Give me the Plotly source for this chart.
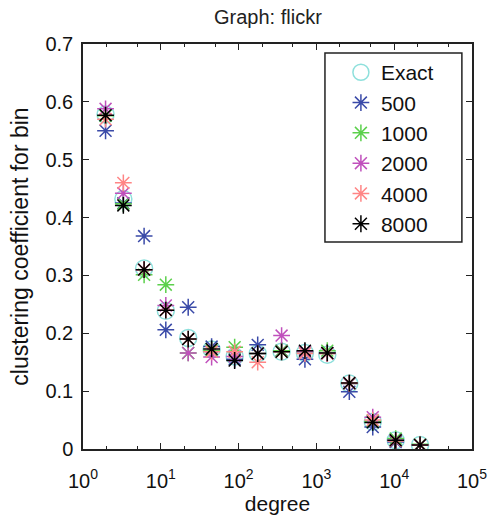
import plotly.graph_objects as go

degree = [1.95, 3.3, 6.1, 11.6, 22.5, 45, 89, 176, 357, 712, 1380, 2650, 5300, 10450, 21500]

exact = [0.578, 0.432, 0.312, 0.239, 0.192, 0.172, 0.160, 0.165, 0.168, 0.166, 0.163, 0.113, 0.047, 0.015, 0.007]
s500 = [0.550, 0.425, 0.368, 0.206, 0.245, 0.177, 0.155, 0.180, 0.170, 0.155, 0.166, 0.099, 0.038, 0.012, 0.007]
s1000 = [0.576, 0.424, 0.301, 0.284, 0.166, 0.170, 0.176, 0.165, 0.170, 0.168, 0.170, 0.113, 0.048, 0.018, 0.008]
s2000 = [0.588, 0.442, 0.310, 0.248, 0.166, 0.159, 0.160, 0.165, 0.196, 0.168, 0.165, 0.113, 0.055, 0.015, 0.007]
s4000 = [0.570, 0.460, 0.310, 0.240, 0.190, 0.168, 0.168, 0.150, 0.168, 0.165, 0.165, 0.114, 0.050, 0.014, 0.007]
s8000 = [0.577, 0.421, 0.310, 0.240, 0.190, 0.173, 0.153, 0.165, 0.168, 0.170, 0.166, 0.114, 0.046, 0.015, 0.007]

series = [
    ("500", s500, "#3a4aa8"),
    ("1000", s1000, "#5cd04c"),
    ("2000", s2000, "#c050bc"),
    ("4000", s4000, "#ff8585"),
    ("8000", s8000, "#000000"),
]

xtickvals = [1, 10, 100, 1000, 10000, 100000]
xticktext = ["10<sup>0</sup>", "10<sup>1</sup>", "10<sup>2</sup>", "10<sup>3</sup>", "10<sup>4</sup>", "10<sup>5</sup>"]
yticks = [0, 0.1, 0.2, 0.3, 0.4, 0.5, 0.6, 0.7]
yticktext = ["0", "0.1", "0.2", "0.3", "0.4", "0.5", "0.6", "0.7"]

fig = go.Figure()
fig.add_trace(go.Scatter(
    x=degree, y=exact, mode="markers", name="Exact",
    marker=dict(symbol="circle-open", size=17, color="#8ee0dc", line=dict(width=1.5, color="#8ee0dc")),
))
for name, vals, col in series:
    fig.add_trace(go.Scatter(
        x=degree, y=vals, mode="markers", name=name,
        marker=dict(symbol="asterisk-open", size=14, color=col, line=dict(width=1.5, color=col)),
    ))

font_family = "Liberation Sans, Arial, sans-serif"
fig.update_layout(
    width=488, height=515,
    margin=dict(l=83, r=16, t=44, b=66),
    paper_bgcolor="white", plot_bgcolor="white",
    font=dict(family=font_family, color="#111111", size=20),
    title=dict(text="Graph: flickr", x=0.549, xanchor="center", y=0.967, yanchor="middle",
               font=dict(size=20, family=font_family, color="#222222")),
    xaxis=dict(
        type="log", range=[0, 5], tickvals=xtickvals, ticktext=xticktext,
        showline=True, linecolor="#222222", linewidth=1.5, mirror="ticks",
        ticks="inside", ticklen=6, tickcolor="#222222", showgrid=False, zeroline=False,
        minor=dict(ticks="inside", ticklen=3, tickcolor="#222222", showgrid=False),
        title=dict(text="degree", font=dict(size=21), standoff=20),
        tickfont=dict(size=20), automargin=False, ticklabelstandoff=13,
    ),
    yaxis=dict(
        range=[0, 0.7], tickvals=yticks, ticktext=yticktext,
        showline=True, linecolor="#222222", linewidth=1.5, mirror="ticks",
        ticks="inside", ticklen=6, tickcolor="#222222", showgrid=False, zeroline=False,
        title=dict(text="clustering coefficient for bin", font=dict(size=23), standoff=10),
        tickfont=dict(size=20), automargin=False, ticklabelstandoff=4,
    ),
    legend=dict(
        x=0.663, y=0.980, xanchor="left", yanchor="top",
        bgcolor="rgba(0,0,0,0)", borderwidth=0,
        font=dict(size=21, family=font_family), itemwidth=30,
    ),
    shapes=[dict(
        type="rect", xref="paper", yref="paper",
        x0=0.622, x1=0.974, y0=0.511, y1=0.978,
        line=dict(color="#222222", width=1.5), fillcolor="white", layer="above",
    )],
)

fig.write_html("out.html", config={"displayModeBar": False},
               post_script="document.body.style.margin='0';document.body.style.overflow='hidden';")
